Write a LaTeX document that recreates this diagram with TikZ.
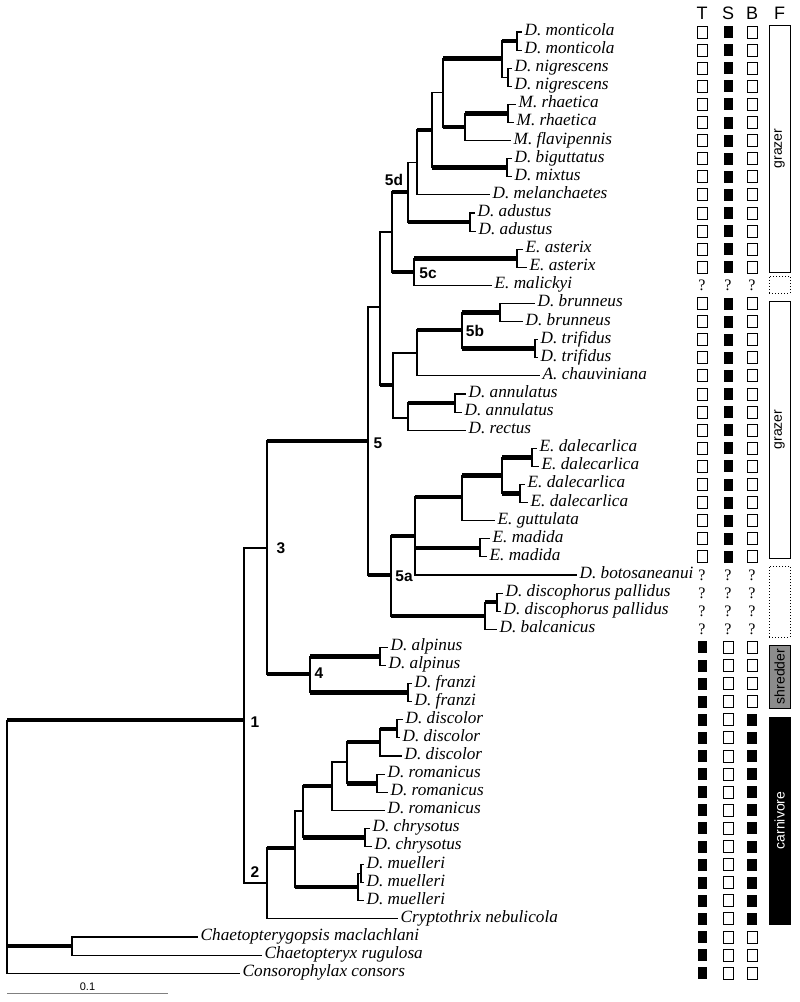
\documentclass[tikz,border=0pt]{standalone}
\usepackage{fontspec}
\setmainfont{Liberation Serif}
\setsansfont{Liberation Sans}
\usetikzlibrary{positioning}

\begin{document}
\begin{tikzpicture}[
      x=1pt, y=-1pt,
      branch/.style={line width=1.1pt},
      strong/.style={line width=4.6pt},
      taxon/.style={anchor=west, inner sep=2.5pt, font=\fontsize{17.2}{17}\selectfont\itshape, text height=0.68em, text depth=0pt},
      clade/.style={font=\fontsize{15.5}{16}\selectfont\sffamily\bfseries, inner sep=0pt},
      head/.style={font=\fontsize{18}{18}\selectfont\sffamily, inner sep=0pt},
      nope/.style={draw, line width=1pt, minimum width=10pt, minimum height=12pt, inner sep=0pt},
      yes/.style={fill=black, minimum width=9pt, minimum height=12pt, inner sep=0pt},
      unk/.style={font=\fontsize{16}{16}\selectfont, inner sep=0pt},
      diet/.style={draw, line width=1pt, minimum width=21pt, inner sep=0pt, font=\fontsize{14}{14}\selectfont\sffamily},
      unsure/.style={draw, dotted, line width=1pt, minimum width=21pt, inner sep=0pt},
      scalebar/.style={line width=1pt, black!50}
    ]
    \useasboundingbox (0,0) rectangle (800,1002);

    % internal nodes
    \foreach \n/\x/\y in {root/7/720, n1/244/720, og/72/946, n3/267/548, n2/267/883,
        n5/368/441, n4/310/674, alp/380/656.5, fra/408/692.6, p5/380/307, n5d/392/232,
        t5/408/192, u5/417/162.5, v5/432/130, w5/443/92.5, x5/502/58.5, mon/517/41,
        nig/508/77.2, y5/465/127, rha/508/113.5, big/507/167.7, adu/470/222, n5c/414/272,
        ast/517/258.2, q5/393/385, r5/417/353, n5b/462/330, bru/500/312.5, tri/535/348.7,
        s5/408/418, ann/455/403, n5a/391/575, aa/415/536, bb/462/497, cc/502/475.5,
        dd/532/457.3, ee/520/493.5, mad/480/547.8, dis/485/616, dp/497/602.1,
        ch/295/848, aA/303/811, bB/332/786, cC/347/762, dD/380/742, eE/397/728.9,
        fF/377/783.2, chr/365/837.5, mue/358/887, mm/361/873.6}
      \coordinate (\n) at (\x,\y);

    % terminal taxa
    \foreach \n/\x/\r/\t in {mon1/522/1/D. monticola, mon2/522/2/D. monticola,
        nig1/512/3/D. nigrescens, nig2/512/4/D. nigrescens, rha1/516/5/M. rhaetica,
        rha2/514/6/M. rhaetica, fla/511/7/M. flavipennis, big1/512/8/D. biguttatus,
        mix/512/9/D. mixtus, mel/490/10/D. melanchaetes, adu1/475/11/D. adustus,
        adu2/476/12/D. adustus, ast1/523/13/E. asterix, ast2/527/14/E. asterix,
        mal/492/15/E. malickyi, bru1/535/16/D. brunneus, bru2/523/17/D. brunneus,
        tri1/538/18/D. trifidus, tri2/538/19/D. trifidus, cha/540/20/A. chauviniana,
        ann1/466/21/D. annulatus, ann2/462/22/D. annulatus, rec/466/23/D. rectus,
        dal1/537/24/E. dalecarlica, dal2/539/25/E. dalecarlica, dal3/525/26/E. dalecarlica,
        dal4/528/27/E. dalecarlica, gut/495/28/E. guttulata, mad1/490/29/E. madida,
        mad2/487/30/E. madida, bot/577/31/D. botosaneanui, dp1/503/32/D. discophorus pallidus,
        dp2/501/33/D. discophorus pallidus, bal/497/34/D. balcanicus, alp1/388/35/D. alpinus,
        alp2/386/36/D. alpinus, fra1/412/37/D. franzi, fra2/412/38/D. franzi,
        dis1/403/39/D. discolor, dis2/400/40/D. discolor, dis3/402/41/D. discolor,
        rom1/385/42/D. romanicus, rom2/388/43/D. romanicus, rom3/385/44/D. romanicus,
        chr1/370/45/D. chrysotus, chr2/372/46/D. chrysotus, mue1/364/47/D. muelleri,
        mue2/364/48/D. muelleri, mue3/364/49/D. muelleri, cry/398/50/Cryptothrix nebulicola,
        cmac/198/51/Chaetopterygopsis maclachlani, crug/262/52/Chaetopteryx rugulosa,
        ccon/240/53/Consorophylax consors}
      {\coordinate (\n) at (\x,{32+18.1*(\r-1)});
       \node[taxon] (\n t) at (\n) {\t};}

    % thin branches
    \foreach \a/\b in {n1/n3, n1/n2, root/ccon, og/cmac, og/crug, n5/p5, p5/n5d, t5/u5,
        u5/mel, v5/w5, x5/nig, nig/nig1, nig/nig2, y5/fla, rha/rha1, rha/rha2, mon/mon1,
        mon/mon2, big/big1, big/mix, adu/adu1, adu/adu2, n5c/mal, ast/ast1, ast/ast2,
        q5/r5, q5/s5, r5/cha, bru/bru1, bru/bru2, tri/tri1, tri/tri2, s5/rec, ann/ann1,
        ann/ann2, bb/gut, dd/dal1, dd/dal2, ee/dal3, ee/dal4, aa/bot, mad/mad1, mad/mad2,
        dis/bal, dp/dp1, dp/dp2, alp/alp1, alp/alp2, fra/fra1, fra/fra2, n2/cry, ch/aA,
        bB/cC, bB/rom3, dD/dis3, eE/dis1, eE/dis2, fF/rom1, fF/rom2, chr/chr1, chr/chr2,
        mue/mm, mue/mue3, mm/mue1, mm/mue2}
      \draw[branch] (\a) |- (\b);

    % well supported branches
    \foreach \a/\b in {root/n1, root/og, n3/n5, n3/n4, n4/alp, n4/fra, n5/n5a, p5/q5,
        n5d/t5, n5d/n5c, t5/adu, u5/v5, v5/big, w5/x5, w5/y5, x5/mon, y5/rha, n5c/ast,
        r5/n5b, n5b/bru, n5b/tri, s5/ann, n5a/aa, n5a/dis, aa/bb, aa/mad, bb/cc, cc/dd,
        cc/ee, dis/dp, n2/ch, ch/mue, aA/bB, aA/chr, cC/dD, cC/fF, dD/eE}
      {\draw[branch] (\a) |- (\b);
       \draw[strong] (\a |- \b) -- (\b);}

    % clade numbers
    \node[clade] (c1) at (255,722) {1};
    \node[clade] (c2) at (255,872) {2};
    \node[clade] (c3) at (281,548) {3};
    \node[clade] (c4) at (319,673) {4};
    \node[clade] (c5) at (378,443) {5};
    \node[clade] (c5a) at (404,576) {5a};
    \node[clade] (c5b) at (475,331) {5b};
    \node[clade] (c5c) at (428,273) {5c};
    \node[clade] (c5d) at (394,180) {5d};

    % character columns
    \node[head] (hT) at (702,13) {T};
    \node[head] (hS) at (728,13) {S};
    \node[head] (hB) at (752,13) {B};
    \node[head] (hF) at (779.5,13) {F};

    \foreach \r in {1,2,3,4,5,6,7,8,9,10,11,12,13,14,16,17,18,19,20,21,22,23,24,25,26,27,28,29,30}
      {\node[nope] (T\r) at (702,{32+18.1*(\r-1)}) {};
       \node[yes] (S\r) at (728,{32+18.1*(\r-1)}) {};
       \node[nope] (B\r) at (752,{32+18.1*(\r-1)}) {};}
    \foreach \r in {15,31,32,33,34}
      {\node[unk] (T\r) at (702,{32+18.1*(\r-1)}) {?};
       \node[unk] (S\r) at (728,{32+18.1*(\r-1)}) {?};
       \node[unk] (B\r) at (752,{32+18.1*(\r-1)}) {?};}
    \foreach \r in {35,...,53}
      {\node[yes] (T\r) at (702,{32+18.1*(\r-1)}) {};
       \node[nope] (S\r) at (728,{32+18.1*(\r-1)}) {};}
    \foreach \r in {35,36,37,38,51,52,53}
      \node[nope] (B\r) at (752,{32+18.1*(\r-1)}) {};
    \foreach \r in {39,...,50}
      \node[yes, minimum width=10pt] (B\r) at (752,{32+18.1*(\r-1)}) {};

    % feeding type
    \node[diet, minimum height=247pt] (graz1) at (779.5,148.5) {\rotatebox{90}{grazer}};
    \node[unsure, minimum height=17pt] (unk1) at (779.5,284.5) {};
    \node[diet, minimum height=257pt] (graz2) at (779.5,429.5) {\rotatebox{90}{grazer}};
    \node[unsure, minimum height=71pt] (unk2) at (779.5,601.5) {};
    \node[diet, fill=black!45, minimum height=63pt] (shred) at (779.5,676.5) {\rotatebox{90}{shredder}};
    \node[diet, fill=black, text=white, minimum height=207pt] (carn) at (779.5,820.5) {\rotatebox{90}{carnivore}};

    % scale
    \coordinate (bar0) at (7,993);
    \coordinate (bar1) at (168,993);
    \draw[scalebar] (bar0) -- node[above, inner sep=1.5pt, text=black, font=\fontsize{11}{11}\selectfont\sffamily] (bartext) {0.1} (bar1);

  \end{tikzpicture}
\end{document}
